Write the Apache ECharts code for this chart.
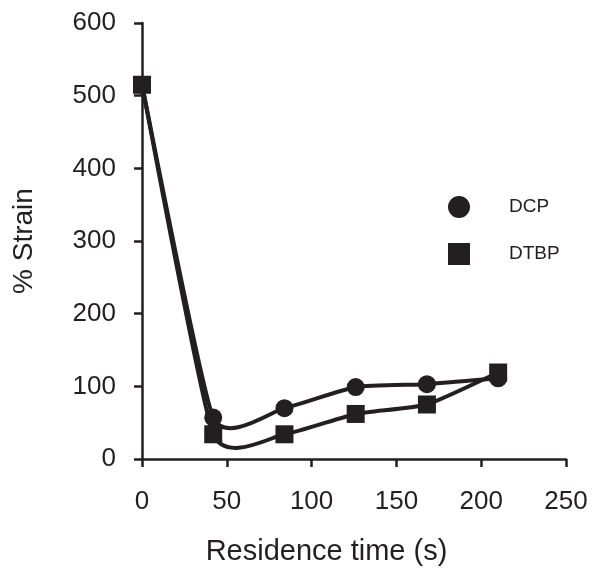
<!DOCTYPE html>
<html>
<head>
<meta charset="utf-8">
<script src="https://cdn.jsdelivr.net/npm/echarts@6/dist/echarts.min.js"></script>
<style>html,body{margin:0;padding:0;background:#fff}#c{width:594px;height:571px}</style>
</head>
<body>
<div id="c"></div>
<script>
var residenceTime = [0, 42, 84, 126, 168, 210];
var dcpStrain = [515, 57, 70, 99, 103, 111];
var dtbpStrain = [515, 34, 34, 62, 75, 119];
var xTicks = [0, 50, 100, 150, 200, 250];
var yTicks = [0, 100, 200, 300, 400, 500, 600];

var ink = '#231f20';
function pairs(xs, ys) { return xs.map(function (x, i) { return [x, ys[i]]; }); }

// Smoothed curve (cardinal-spline Bezier, like spreadsheet smoothed lines) through the data points,
// positioned via the chart's own coordinate system (api.coord).
function curveRenderer(xs, ys) {
  return function (params, api) {
    var i = params.dataIndex;
    var n = xs.length;
    if (i >= n - 1) return null;
    function P(k) {
      k = Math.max(0, Math.min(n - 1, k));
      return api.coord([xs[k], ys[k]]);
    }
    var p0 = P(i - 1), p1 = P(i), p2 = P(i + 1), p3 = P(i + 2);
    var t = 0.085;
    return {
      type: 'bezierCurve',
      shape: {
        x1: p1[0], y1: p1[1], x2: p2[0], y2: p2[1],
        cpx1: p1[0] + (p2[0] - p0[0]) * t, cpy1: p1[1] + (p2[1] - p0[1]) * t,
        cpx2: p2[0] - (p3[0] - p1[0]) * t, cpy2: p2[1] - (p3[1] - p1[1]) * t
      },
      style: {stroke: ink, lineWidth: 4, fill: null, lineCap: 'round'}
    };
  };
}

var chart = echarts.init(document.getElementById('c'), null, {renderer: 'canvas'});
chart.setOption({
  animation: false,
  backgroundColor: '#fff',
  textStyle: {fontFamily: 'Liberation Sans, Arial, sans-serif'},
  grid: {left: 142, right: 28, top: 23, bottom: 110, containLabel: false},
  legend: {
    orient: 'vertical', left: 443, top: 191,
    itemWidth: 22, itemHeight: 22, itemGap: 25,
    textStyle: {fontSize: 19, color: ink, padding: [0, 0, 0, 34]},
    data: [{name: 'DCP', icon: 'circle'}, {name: 'DTBP', icon: 'rect'}]
  },
  xAxis: {
    type: 'value', min: xTicks[0], max: xTicks[xTicks.length - 1], interval: 50,
    name: 'Residence time (s)', nameLocation: 'middle', nameGap: 78,
    nameTextStyle: {fontSize: 29, color: ink, padding: [0, 55, 0, 0]},
    axisLine: {lineStyle: {color: ink, width: 2.5}},
    axisTick: {lineStyle: {color: ink, width: 2.5}, length: 8},
    axisLabel: {fontSize: 26, color: ink, margin: 30},
    splitLine: {show: false}
  },
  yAxis: {
    type: 'value', min: yTicks[0], max: yTicks[yTicks.length - 1], interval: 100,
    name: '% Strain', nameLocation: 'middle', nameGap: 104,
    nameTextStyle: {fontSize: 28, color: ink},
    axisLine: {show: true, lineStyle: {color: ink, width: 2.5}},
    axisTick: {show: true, lineStyle: {color: ink, width: 2.5}, length: 8},
    axisLabel: {fontSize: 26, color: ink, margin: 26},
    splitLine: {show: false}
  },
  series: [
    {
      name: 'DCP curve', type: 'custom', z: 1,
      data: pairs(residenceTime, dcpStrain),
      encode: {x: 0, y: 1},
      renderItem: curveRenderer(residenceTime, dcpStrain)
    },
    {
      name: 'DTBP curve', type: 'custom', z: 1,
      data: pairs(residenceTime, dtbpStrain),
      encode: {x: 0, y: 1},
      renderItem: curveRenderer(residenceTime, dtbpStrain)
    },
    {
      name: 'DCP', type: 'scatter', z: 3,
      data: pairs(residenceTime, dcpStrain),
      symbol: 'circle', symbolSize: 18,
      itemStyle: {color: ink, opacity: 1}
    },
    {
      name: 'DTBP', type: 'scatter', z: 3,
      data: pairs(residenceTime, dtbpStrain),
      symbol: 'rect', symbolSize: 18,
      itemStyle: {color: ink, opacity: 1}
    }
  ]
});
</script>
</body>
</html>
